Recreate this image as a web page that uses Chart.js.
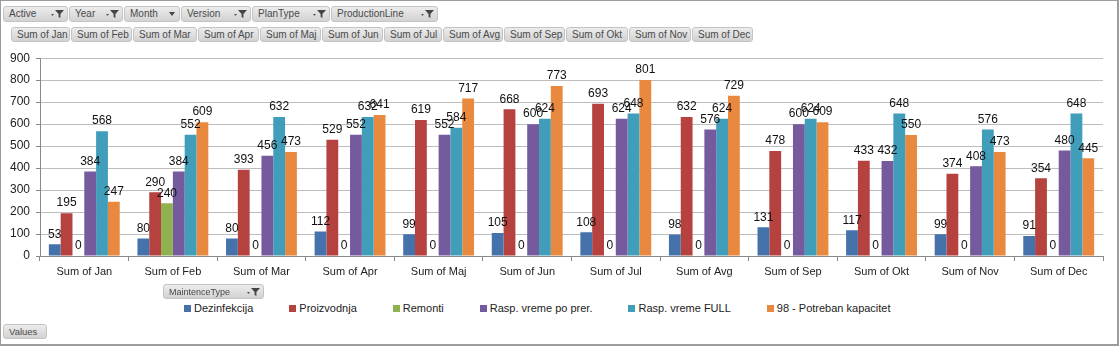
<!DOCTYPE html>
<html>
<head>
<meta charset="utf-8">
<title>MaintenceType po mesecima</title>
<script src="https://cdn.jsdelivr.net/npm/chart.js@4.4.0/dist/chart.umd.min.js"></script>
<style>
  body { margin: 0; background: #fff; }
  #frame { position: relative; width: 1119px; height: 346px; background: #fff; overflow: hidden; font-family: "Liberation Sans", Arial, sans-serif; }
  #edge { position: absolute; left: 0; top: 0; width: 1119px; height: 346px; box-sizing: border-box; border: 1px solid #9c9c9c; border-right-width: 2px; border-bottom-width: 2px; pointer-events: none; }
  .row { position: absolute; display: flex; gap: 1px; }
  .btn { box-sizing: border-box; height: 100%; border: 1px solid #c4c4c4; border-radius: 3px;
         background: linear-gradient(#ececec, #d2d2d2); color: #4a4a4a; font-size: 10px;
         line-height: 14px; padding-left: 5px; position: relative; white-space: nowrap; }
  .btn svg { position: absolute; right: 3px; top: 2px; }
  #chartBox { position: absolute; left: 0; top: 45px; width: 1119px; height: 240px; }
  #legend { position: absolute; left: 184px; top: 302px; display: flex; gap: 36px; font-size: 11px; color: #222; }
  #legend span.item { display: flex; align-items: center; white-space: nowrap; }
  #legend i { display: inline-block; width: 7px; height: 7px; margin-right: 3px; }
</style>
</head>
<body>
<div id="frame">
  <div class="row" style="left:3px; top:6px; height:16px;">
    <div class="btn flt" style="width:65px">Active</div>
    <div class="btn flt" style="width:54px">Year</div>
    <div class="btn arr" style="width:56px">Month</div>
    <div class="btn flt" style="width:70px">Version</div>
    <div class="btn flt" style="width:78px">PlanType</div>
    <div class="btn flt" style="width:107px">ProductionLine</div>
  </div>
  <div class="row" id="valueFields" style="left:11px; top:27px; height:15px;"></div>

  <div id="chartBox"><canvas id="maintChart"></canvas></div>

  <div class="row" style="left:163px; top:284px; height:15px;">
    <div class="btn flt" style="width:101px; font-size:9px">MaintenceType</div>
  </div>
  <div id="legend"></div>
  <div class="row" style="left:3px; top:324px; height:15px;">
    <div class="btn" style="width:44px; font-size:9.5px">Values</div>
  </div>
  <div id="edge"></div>
</div>

<script>
// kategorije (meseci) i serije po tipu odrzavanja
const months = ['Sum of Jan', 'Sum of Feb', 'Sum of Mar', 'Sum of Apr', 'Sum of Maj', 'Sum of Jun',
                'Sum of Jul', 'Sum of Avg', 'Sum of Sep', 'Sum of Okt', 'Sum of Nov', 'Sum of Dec'];
const dezinfekcija = [53, 80, 80, 112, 99, 105, 108, 98, 131, 117, 99, 91];
const proizvodnja = [195, 290, 393, 529, 619, 668, 693, 632, 478, 433, 374, 354];
const remonti = [0, 240, 0, 0, 0, 0, 0, 0, 0, 0, 0, 0];
const raspPoPrer = [384, 384, 456, 552, 552, 600, 624, 576, 600, 432, 408, 480];
const raspFull = [568, 552, 632, 632, 584, 624, 648, 624, 624, 648, 576, 648];
const potrebanKapacitet = [247, 609, 473, 641, 717, 773, 801, 729, 609, 550, 473, 445];
const yTicks = [0, 100, 200, 300, 400, 500, 600, 700, 800, 900];

// dugmad za polja vrednosti
const fieldsRow = document.getElementById('valueFields');
const fieldWidths = [59, 61, 64, 61, 61, 61, 58, 60, 61, 62, 62, 61];
months.forEach(function(m, i) {
    const b = document.createElement('div');
    b.className = 'btn';
    b.style.width = fieldWidths[i] + 'px';
    b.style.height = '15px';
    b.style.lineHeight = '13px';
    b.textContent = m;
    fieldsRow.appendChild(b);
});

// ikonice filtera na dugmadima
const funnel = '<svg width="13" height="10" viewBox="0 0 13 10">' +
    '<path d="M0 5h3l-1.5 2z" fill="#555"/>' +
    '<path d="M4 1h9l-3.6 4v4l-1.8-1v-3z" fill="#444"/></svg>';
const arrow = '<svg width="8" height="10" viewBox="0 0 8 10"><path d="M1 3h6l-3 4z" fill="#444"/></svg>';
document.querySelectorAll('.btn.flt').forEach(function(b) { b.insertAdjacentHTML('beforeend', funnel); });
document.querySelectorAll('.btn.arr').forEach(function(b) { b.insertAdjacentHTML('beforeend', arrow); });

// ispisivanje vrednosti iznad stubica
const valueLabels = {
    id: 'valueLabels',
    afterDatasetsDraw: function(chart) {
        const ctx = chart.ctx;
        ctx.save();
        ctx.font = '12px "Liberation Sans", Arial, sans-serif';
        ctx.fillStyle = '#111';
        ctx.textAlign = 'center';
        ctx.textBaseline = 'bottom';
        chart.data.datasets.forEach(function(ds, i) {
            chart.getDatasetMeta(i).data.forEach(function(bar, j) {
                ctx.fillText(ds.data[j], bar.x, bar.y - 4);
            });
        });
        ctx.restore();
    }
};

const ctx = document.getElementById('maintChart').getContext('2d');
const maintChart = new Chart(ctx, {
    type: 'bar',
    data: {
        labels: months,
        datasets: [
            { label: 'Dezinfekcija', data: dezinfekcija, backgroundColor: '#4672AC' },
            { label: 'Proizvodnja', data: proizvodnja, backgroundColor: '#B5423F' },
            { label: 'Remonti', data: remonti, backgroundColor: '#8FB150' },
            { label: 'Rasp. vreme po prer.', data: raspPoPrer, backgroundColor: '#755A9E' },
            { label: 'Rasp. vreme FULL', data: raspFull, backgroundColor: '#409EBB' },
            { label: '98 - Potreban kapacitet', data: potrebanKapacitet, backgroundColor: '#E8893F' }
        ]
    },
    options: {
        responsive: true,
        maintainAspectRatio: false,
        animation: false,
        layout: { padding: { left: 0, right: 16, top: 10, bottom: 0 } },
        datasets: {
            bar: { categoryPercentage: 0.8, barPercentage: 1.0, borderWidth: 0 }
        },
        plugins: {
            legend: { display: false },
            tooltip: { enabled: false }
        },
        scales: {
            x: {
                afterFit: function(scale) { scale.height = 29; },
                grid: { offset: true, drawOnChartArea: false, tickLength: 5, color: '#8a8a8a' },
                border: { color: '#8a8a8a' },
                ticks: {
                    autoSkip: false, maxRotation: 0, padding: 4, color: '#222',
                    font: { family: '"Liberation Sans", Arial, sans-serif', size: 11 }
                }
            },
            y: {
                min: 0,
                max: 900,
                afterFit: function(scale) { scale.width = 40; },
                afterBuildTicks: function(scale) { scale.ticks = yTicks.map(function(v) { return { value: v }; }); },
                grid: { color: '#bdbdbd', tickColor: '#8a8a8a', tickLength: 4 },
                border: { color: '#8a8a8a' },
                ticks: {
                    padding: 6, color: '#222',
                    font: { family: '"Liberation Sans", Arial, sans-serif', size: 12 }
                }
            }
        }
    },
    plugins: [valueLabels]
});

// legenda ispod grafikona
const legendBox = document.getElementById('legend');
maintChart.data.datasets.forEach(function(ds) {
    const item = document.createElement('span');
    item.className = 'item';
    item.innerHTML = '<i style="background:' + ds.backgroundColor + '"></i>' + ds.label;
    legendBox.appendChild(item);
});
</script>
</body>
</html>
